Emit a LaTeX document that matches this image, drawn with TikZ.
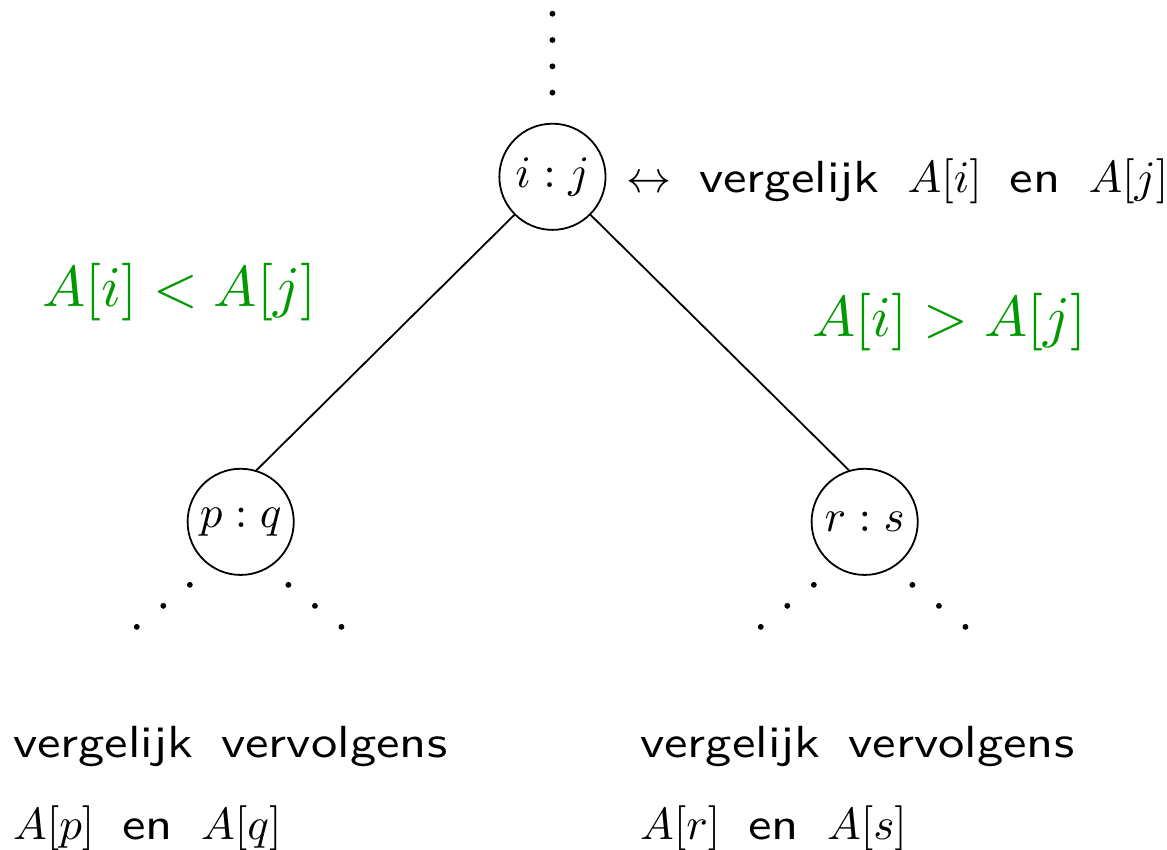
\documentclass[tikz,border=0pt]{standalone}
\usepackage{fontspec}
\setsansfont{Latin Modern Sans}[FakeStretch=1.17,WordSpace=1.6]
\usetikzlibrary{positioning}

\tikzset{
  vergelijk/.style={circle,draw,minimum size=23.6pt,inner sep=0pt},
  tak/.style={green!60!black,scale=1.28,transform shape},
  uitleg/.style={font=\sffamily,inner sep=0pt,anchor=base west},
  punt/.style={fill=black}
}

\begin{document}
\begin{tikzpicture}[node distance=2cm,on grid]
          \useasboundingbox (-122.8pt,-149.6pt) rectangle (136.6pt,39.3pt);

          \node[vergelijk]  (root)                                  {$i:j$};
          \node[vergelijk]  (pq)   [below left=76.7pt and 69.3pt of root]  {$p:q$};
          \node[vergelijk]  (rs)   [below right=76.7pt and 69.4pt of root] {$r:s$};

          \node[uitleg] (info) at ([shift={(4.2pt,-3.6pt)}]root.east)
                {$\leftrightarrow$ vergelijk $A[i]$ en $A[j]$};

          \node[tak] (kleiner) at ([shift={(-83pt,-25.6pt)}]root.center) {$A[i] < A[j]$};
          \node[tak] (groter)  at ([shift={(88.3pt,-32.2pt)}]root.center) {$A[i] > A[j]$};

          \draw (root.south west) -- (pq.73);
          \draw (root.south east) -- (rs.107);

          \foreach \k in {0,...,3}
            \fill[punt] ([yshift=18.7pt+\k*5.85pt]root.center) circle (0.65pt);

          \foreach \n in {pq,rs}
            \foreach \k in {0,1,2} {
              \fill[punt] ([shift={(-11.3pt-\k*5.9pt,-14pt-\k*4.67pt)}]\n.center) circle (0.65pt);
              \fill[punt] ([shift={(10.6pt+\k*5.9pt,-14pt-\k*4.67pt)}]\n.center) circle (0.65pt);
            }

          \node[uitleg] (pq1) at ([shift={(-50.8pt,-52.4pt)}]pq.center) {vergelijk vervolgens};
          \node[uitleg] (pq2) at ([yshift=-18.2pt]pq1.base west)        {$A[p]$ en $A[q]$};
          \node[uitleg] (rs1) at ([shift={(-50.1pt,-52.4pt)}]rs.center) {vergelijk vervolgens};
          \node[uitleg] (rs2) at ([yshift=-18.2pt]rs1.base west)        {$A[r]$ en $A[s]$};
\end{tikzpicture}
\end{document}
